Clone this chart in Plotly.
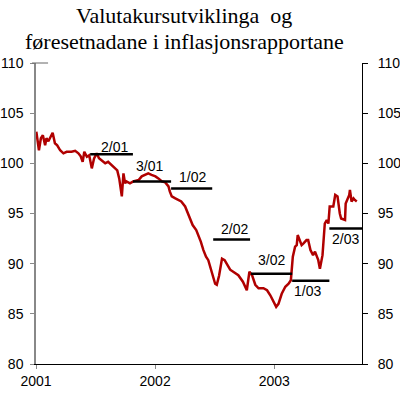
import plotly.graph_objects as go

# Exchange rate index
dates = [
    "2001-01-02","2001-01-05","2001-01-10","2001-01-16","2001-01-22","2001-01-29","2001-02-02","2001-02-08",
    "2001-02-15","2001-02-21","2001-02-28","2001-03-07","2001-03-16","2001-03-26","2001-04-05","2001-04-20",
    "2001-05-01","2001-05-11","2001-05-18","2001-05-24","2001-05-29","2001-06-06","2001-06-13","2001-06-21",
    "2001-06-28","2001-07-06","2001-07-13","2001-07-20","2001-08-01","2001-08-10","2001-08-21","2001-08-31",
    "2001-09-07","2001-09-13","2001-09-21","2001-09-26","2001-10-01","2001-10-05","2001-10-16","2001-10-26",
    "2001-11-12","2001-11-21","2001-11-30","2001-12-11","2001-12-21","2002-01-02","2002-01-11","2002-01-22",
    "2002-02-01","2002-02-11","2002-02-15","2002-02-21","2002-03-04","2002-03-13","2002-03-22","2002-04-03",
    "2002-04-12","2002-04-19","2002-04-26","2002-05-07","2002-05-14","2002-05-21","2002-05-29","2002-06-06",
    "2002-06-13","2002-06-21","2002-06-27","2002-07-04","2002-07-09","2002-07-16","2002-07-25","2002-08-02",
    "2002-08-19","2002-08-29","2002-09-13","2002-09-27","2002-10-09","2002-10-17","2002-10-25","2002-11-04",
    "2002-11-14","2002-11-29","2002-12-10","2002-12-20","2002-12-30","2003-01-07","2003-01-14","2003-01-24",
    "2003-02-04","2003-02-14","2003-02-21","2003-02-27","2003-03-06","2003-03-11","2003-03-14","2003-03-26",
    "2003-03-31","2003-04-10","2003-04-15","2003-04-22","2003-04-30","2003-05-06","2003-05-16","2003-05-21",
    "2003-05-29","2003-06-05","2003-06-11","2003-06-16","2003-06-20","2003-07-01","2003-07-07","2003-07-14",
    "2003-07-21","2003-07-25","2003-08-06","2003-08-08","2003-08-19","2003-08-21","2003-08-26","2003-09-01",
    "2003-09-05","2003-09-11",
]
values = [
    103.15,102.5,101.3,102.5,102.8,101.8,102.5,102.2,
    102.65,103.05,102.0,101.8,101.3,101.0,101.15,101.15,
    101.25,101.0,100.7,100.15,101.15,100.65,100.8,99.5,
    100.5,101.0,100.5,100.3,100.0,100.15,99.8,99.5,
    99.3,98.5,96.7,99.0,98.0,98.2,98.0,98.2,
    98.35,98.7,98.85,99.0,98.85,98.7,98.5,98.2,
    98.1,97.7,97.2,96.7,96.5,96.35,96.2,95.7,
    95.0,94.5,93.85,93.35,92.85,92.2,91.35,90.7,
    90.35,89.5,88.85,88.0,87.9,88.8,90.5,90.35,
    89.4,89.2,88.85,88.2,87.35,89.2,88.85,87.9,
    87.55,87.55,87.35,86.85,86.2,85.7,86.0,87.0,
    87.7,88.0,88.35,90.7,91.7,91.85,92.85,91.85,
    92.0,92.35,92.35,91.35,90.85,91.2,90.35,89.5,
    90.85,94.0,94.35,94.0,95.7,95.7,96.85,96.7,
    95.0,94.5,94.35,96.0,96.85,97.35,96.2,96.5,
    96.35,96.2,
]

# Assumptions in the inflation reports
report_labels = ["2/01", "3/01", "1/02", "2/02", "3/02", "1/03", "2/03"]
report_start = ["2001-06-16", "2001-10-25", "2002-02-19", "2002-06-28", "2002-10-22", "2003-02-25", "2003-06-19"]
report_end = ["2001-10-25", "2002-02-19", "2002-06-25", "2002-10-19", "2003-02-25", "2003-06-19", "2003-09-27"]
report_level = [100.9, 98.2, 97.5, 92.4, 89.0, 88.3, 93.5]
label_x = ["2001-08-31", "2001-12-16", "2002-04-27", "2002-08-31", "2002-12-25", "2003-04-14", "2003-08-06"]
label_y = [101.6, 99.75, 98.65, 93.5, 90.4, 87.3, 92.5]

title_lines = ["Valutakursutviklinga\u00a0 og", "føresetnadane i inflasjonsrapportane"]

x_tickvals = ["2001-01-01", "2002-01-01", "2003-01-01"]
x_ticktext = ["2001", "2002", "2003"]
y_ticks = [80, 85, 90, 95, 100, 105, 110]

fig = go.Figure()
fig.add_trace(go.Scatter(x=dates, y=values, mode="lines",
                         line=dict(color="#B00000", width=2.5), showlegend=False))
for s, e, lv in zip(report_start, report_end, report_level):
    fig.add_trace(go.Scatter(x=[s, e], y=[lv, lv], mode="lines",
                             line=dict(color="black", width=2.5), showlegend=False))
# invisible trace to activate right axis
fig.add_trace(go.Scatter(x=[dates[0]], y=[values[0]], yaxis="y2", mode="lines",
                         line=dict(width=0), showlegend=False, hoverinfo="skip"))

for t, lx, ly in zip(report_labels, label_x, label_y):
    fig.add_annotation(x=lx, y=ly, text=t, showarrow=False,
                       font=dict(family="Liberation Sans", size=14, color="black"))

for txt, ty in zip(title_lines, [1.159, 1.073]):
    fig.add_annotation(x=0.454, y=ty, xref="paper", yref="paper", text=txt,
                       showarrow=False, xanchor="center", yanchor="middle",
                       font=dict(family="Liberation Serif", size=22, color="black"))

# small cross tick at top of left axis
fig.add_shape(type="line", xref="paper", yref="paper", x0=-0.012, x1=0.037, y0=1, y1=1,
              line=dict(color="#666666", width=1))

fig.update_layout(
    width=400, height=396,
    margin=dict(l=36, r=38, t=63, b=32),
    paper_bgcolor="white", plot_bgcolor="white",
    xaxis=dict(type="date", range=["2001-01-01", "2003-09-27"],
               tickvals=x_tickvals, ticktext=x_ticktext,
               showgrid=False, zeroline=False, automargin=False,
               showline=True, linecolor="black", linewidth=1,
               ticks="outside", ticklen=4, tickcolor="#888888",
               tickfont=dict(family="Liberation Sans", size=14, color="black")),
    yaxis=dict(range=[80, 110], tickvals=y_ticks,
               showgrid=False, zeroline=False, automargin=False,
               showline=True, linecolor="#888888", linewidth=1.5,
               ticks="outside", ticklen=4, tickcolor="#888888",
               ticklabelstandoff=4,
               tickfont=dict(family="Liberation Sans", size=14, color="black")),
    yaxis2=dict(range=[80, 110], tickvals=y_ticks, overlaying="y", side="right",
                showgrid=False, zeroline=False, automargin=False,
                showline=True, linecolor="black", linewidth=1,
                ticks="outside", ticklen=5, tickcolor="black",
                ticklabelstandoff=7,
                tickfont=dict(family="Liberation Sans", size=14, color="black")),
)

fig.write_html("out.html", config={"displayModeBar": False},
               post_script="document.body.style.margin='0';")
